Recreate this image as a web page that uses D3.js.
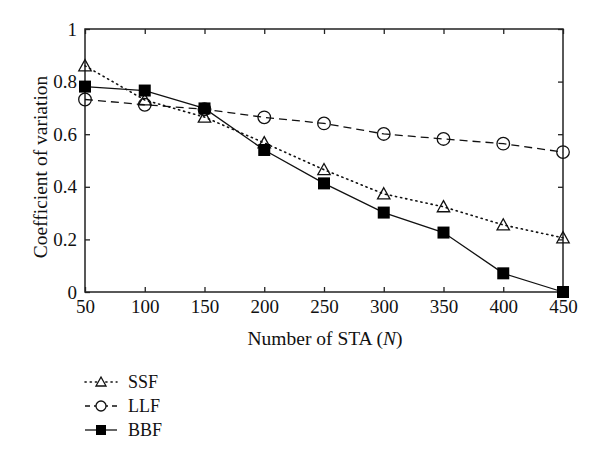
<!DOCTYPE html>
<html>
<head>
<meta charset="utf-8" />
<script src="https://d3js.org/d3.v7.min.js"></script>
<style>
  body { margin: 0; background: #fff; }
  svg { font-family: "Liberation Serif", "DejaVu Serif", serif; }
</style>
</head>
<body>
<div id="chart"></div>
<script>
// data
var stations = [50, 100, 150, 200, 250, 300, 350, 400, 450];
var ssf = [0.86, 0.73, 0.665, 0.567, 0.465, 0.373, 0.324, 0.255, 0.206];
var llf = [0.732, 0.712, 0.695, 0.664, 0.641, 0.601, 0.582, 0.564, 0.532];
var bbf = [0.781, 0.766, 0.698, 0.540, 0.413, 0.302, 0.226, 0.071, 0.0];
var xTicks = [50, 100, 150, 200, 250, 300, 350, 400, 450];
var yTicks = [0, 0.2, 0.4, 0.6, 0.8, 1];

var width = 600, height = 459;
var margin = { top: 29, right: 37, bottom: 167, left: 85 };

var series = [
  { name: "SSF", values: ssf, dash: "1.2,4", marker: "tri" },
  { name: "LLF", values: llf, dash: "8,5", marker: "circle" },
  { name: "BBF", values: bbf, dash: null, marker: "square" }
];

var x = d3.scaleLinear().domain([50, 450]).range([margin.left, width - margin.right]);
var y = d3.scaleLinear().domain([0, 1]).range([height - margin.bottom, margin.top]);

var svg = d3.select("#chart").append("svg")
  .attr("width", width).attr("height", height);

var axisColor = "#222";

// frame ticks pointing inward on all four sides
svg.append("g")
  .attr("transform", `translate(0,${y(0)})`)
  .call(d3.axisBottom(x).tickValues(xTicks).tickSize(-5).tickPadding(7.5).tickSizeOuter(0))
  .call(g => g.select(".domain").remove());
svg.append("g")
  .attr("transform", `translate(${x(50)},0)`)
  .call(d3.axisLeft(y).tickValues(yTicks).tickSize(-5).tickPadding(8).tickFormat(d3.format("~g")).tickSizeOuter(0))
  .call(g => g.select(".domain").remove());
svg.append("g")
  .attr("transform", `translate(0,${y(1)})`)
  .call(d3.axisTop(x).tickValues(xTicks).tickSize(-5).tickFormat("").tickSizeOuter(0))
  .call(g => g.select(".domain").remove());
svg.append("g")
  .attr("transform", `translate(${x(450)},0)`)
  .call(d3.axisRight(y).tickValues(yTicks).tickSize(-5).tickFormat("").tickSizeOuter(0))
  .call(g => g.select(".domain").remove());

svg.selectAll(".tick line").attr("stroke", axisColor).attr("stroke-width", 1.3);
svg.selectAll(".tick text").attr("fill", "#111").style("font-size", "19px")
  .style("font-family", "Liberation Serif, serif");

svg.append("rect")
  .attr("x", x(50)).attr("y", y(1))
  .attr("width", x(450) - x(50)).attr("height", y(0) - y(1))
  .attr("fill", "none").attr("stroke", axisColor).attr("stroke-width", 1.5);

// lines
var line = d3.line().x((d, i) => x(stations[i])).y(d => y(d));

function drawMarker(g, type, cx, cy) {
  if (type === "tri") {
    var s = 6.2;
    g.append("path")
      .attr("d", `M${cx},${cy - s} L${cx + s},${cy + s * 0.8} L${cx - s},${cy + s * 0.8} Z`)
      .attr("fill", "none").attr("stroke", "#111").attr("stroke-width", 1.3);
  } else if (type === "circle") {
    g.append("circle").attr("cx", cx).attr("cy", cy).attr("r", 6.3)
      .attr("fill", "none").attr("stroke", "#111").attr("stroke-width", 1.3);
  } else {
    g.append("rect").attr("x", cx - 6).attr("y", cy - 6)
      .attr("width", 12).attr("height", 12).attr("fill", "#000");
  }
}

series.forEach(function (s) {
  var g = svg.append("g");
  g.append("path")
    .datum(s.values)
    .attr("d", line)
    .attr("fill", "none")
    .attr("stroke", "#111")
    .attr("stroke-width", s.dash === "1.2,4" ? 1.6 : 1.3)
    .attr("stroke-dasharray", s.dash)
    .attr("stroke-linecap", s.dash === "1.2,4" ? "round" : "butt");
  s.values.forEach(function (v, i) {
    drawMarker(g, s.marker, x(stations[i]), y(v));
  });
});

// axis titles
var xt = svg.append("text")
  .attr("x", 325).attr("y", 345)
  .attr("text-anchor", "middle")
  .style("font-size", "19.5px").attr("fill", "#111");
xt.append("tspan").text("Number of STA (");
xt.append("tspan").attr("font-style", "italic").text("N");
xt.append("tspan").text(")");

svg.append("text")
  .attr("transform", `translate(47,167) rotate(-90)`)
  .attr("text-anchor", "middle")
  .style("font-size", "19.5px").attr("fill", "#111")
  .text("Coefficient of variation");

// legend
var legend = svg.append("g");
series.forEach(function (s, i) {
  var ly = 382 + i * 24;
  var lg = legend.append("g");
  lg.append("line")
    .attr("x1", 85).attr("x2", 117).attr("y1", ly).attr("y2", ly)
    .attr("stroke", "#111")
    .attr("stroke-width", s.dash === "1.2,4" ? 1.6 : 1.3)
    .attr("stroke-dasharray", s.dash === "8,5" ? "5,4" : s.dash)
    .attr("stroke-linecap", s.dash === "1.2,4" ? "round" : "butt");
  if (s.marker === "tri") {
    lg.append("path").attr("d", `M101,${ly - 5} L106,${ly + 4} L96,${ly + 4} Z`)
      .attr("fill", "#fff").attr("stroke", "#111").attr("stroke-width", 1.3);
  } else if (s.marker === "circle") {
    lg.append("circle").attr("cx", 101).attr("cy", ly).attr("r", 5)
      .attr("fill", "#fff").attr("stroke", "#111").attr("stroke-width", 1.3);
  } else {
    lg.append("rect").attr("x", 96).attr("y", ly - 5).attr("width", 10).attr("height", 10).attr("fill", "#000");
  }
  lg.append("text").attr("x", 128).attr("y", ly + 6)
    .style("font-size", "18px").attr("fill", "#111").text(s.name);
});
</script>
</body>
</html>
